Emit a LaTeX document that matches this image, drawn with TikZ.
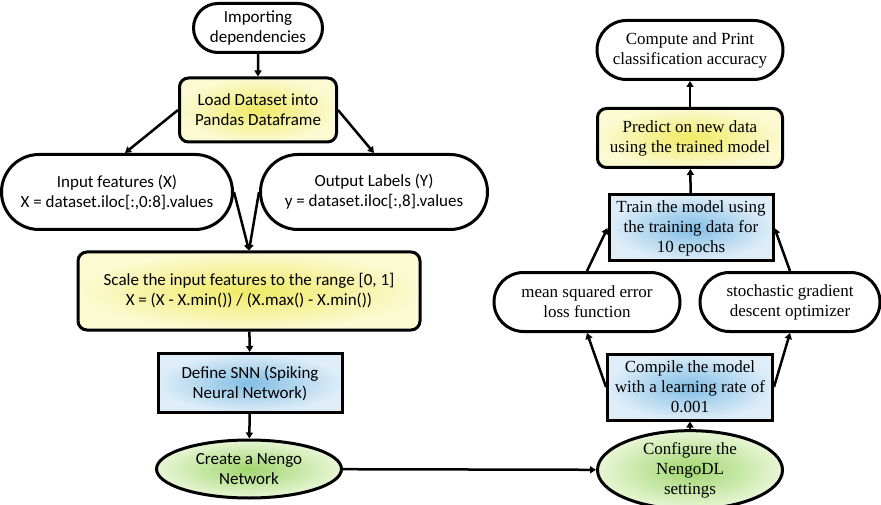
\documentclass[tikz,border=0pt]{standalone}
\usepackage{fontspec}
\setmainfont{Liberation Serif}
\newfontfamily\calib{Carlito}
\usetikzlibrary{shapes.misc,shapes.geometric,arrows.meta,calc}
\definecolor{yin}{RGB}{240,234,100}
\definecolor{yout}{RGB}{251,250,210}
\definecolor{bin}{RGB}{130,190,228}
\definecolor{bout}{RGB}{222,237,248}
\definecolor{gin}{RGB}{160,214,110}
\definecolor{gout}{RGB}{232,246,214}
\begin{document}
\begin{tikzpicture}[x=1pt,y=-1pt,
  every node/.style={align=center,inner sep=0pt,line width=3pt,draw=black},
  sansA/.style={font=\calib\fontsize{17}{20}\selectfont},
  serifA/.style={font=\fontsize{17}{20}\selectfont},
  stadium/.style={rounded rectangle,fill=white},
  yellowbox/.style={rounded corners=9pt,inner color=yin,outer color=yout},
  bluebox/.style={rectangle,inner color=bin,outer color=bout},
  greenell/.style={ellipse,inner color=gin,outer color=gout},
  link/.style={line width=2.5pt,-{Triangle[width=7pt,length=6pt]}}]
\useasboundingbox (0,0) rectangle (881,505);

% left column
\node[stadium,sansA,minimum width=129pt,minimum height=49pt] (imp) at (258,28) {Importing\\dependencies};
\node[yellowbox,sansA,minimum width=157pt,minimum height=64pt] (load) at (258,110) {Load Dataset into\\Pandas Dataframe};
\node[stadium,sansA,minimum width=231pt,minimum height=75pt] (inp) at (117,192) {Input features (X)\\X = dataset.iloc[:,0:8].values};
\node[stadium,sansA,minimum width=227pt,minimum height=75pt] (out) at (374,192) {Output Labels (Y)\\y = dataset.iloc[:,8].values};
\node[yellowbox,sansA,minimum width=342pt,minimum height=78pt] (scale) at (249,291) {Scale the input features to the range [0, 1]\\X = (X - X.min()) / (X.max() - X.min())};
\node[bluebox,sansA,minimum width=184pt,minimum height=59pt] (snn) at (250,383) {Define SNN (Spiking\\Neural Network)};
\node[greenell,sansA,minimum width=185pt,minimum height=58pt] (net) at (249,469) {Create a Nengo\\Network};

% right column
\node[greenell,serifA,minimum width=185pt,minimum height=70pt] (cfg) at (690,470) {Configure the\\NengoDL\\settings};
\node[bluebox,serifA,minimum width=165pt,minimum height=66pt] (comp) at (690,387) {Compile the model\\with a learning rate of\\0.001};
\node[stadium,serifA,minimum width=186pt,minimum height=59pt] (mse) at (587,302) {mean squared error\\loss function};
\node[stadium,serifA,minimum width=180pt,minimum height=59pt] (sgd) at (790,302) {stochastic gradient\\descent optimizer};
\node[bluebox,serifA,minimum width=164pt,minimum height=66pt] (train) at (691,228) {Train the model using\\the training data for\\10 epochs};
\node[yellowbox,serifA,minimum width=185pt,minimum height=59pt] (pred) at (690,138) {Predict on new data\\using the trained model};
\node[stadium,serifA,minimum width=186pt,minimum height=59pt] (acc) at (690,50) {Compute and Print\\classification accuracy};

% connectors
\draw[link] (imp) -- (load);
\draw[link] (load.west) -- ($(inp.north)+(8,0)$);
\draw[link] (load.east) -- (out.north);
\draw[link] (inp.east) -- (scale.north);
\draw[link] (out.west) -- (scale.north);
\draw[link] (scale) -- (snn);
\draw[link] (snn) -- (net);
\draw[link] (net) -- (cfg);
\draw[link] (cfg) -- (comp);
\draw[link] (comp.west) -- (mse.south);
\draw[link] (comp.east) -- (sgd.south);
\draw[link] (mse.north) -- (train.west);
\draw[link] (sgd.north) -- (train.east);
\draw[link] (train) -- (pred);
\draw[link] (pred) -- (acc);
\end{tikzpicture}
\end{document}
